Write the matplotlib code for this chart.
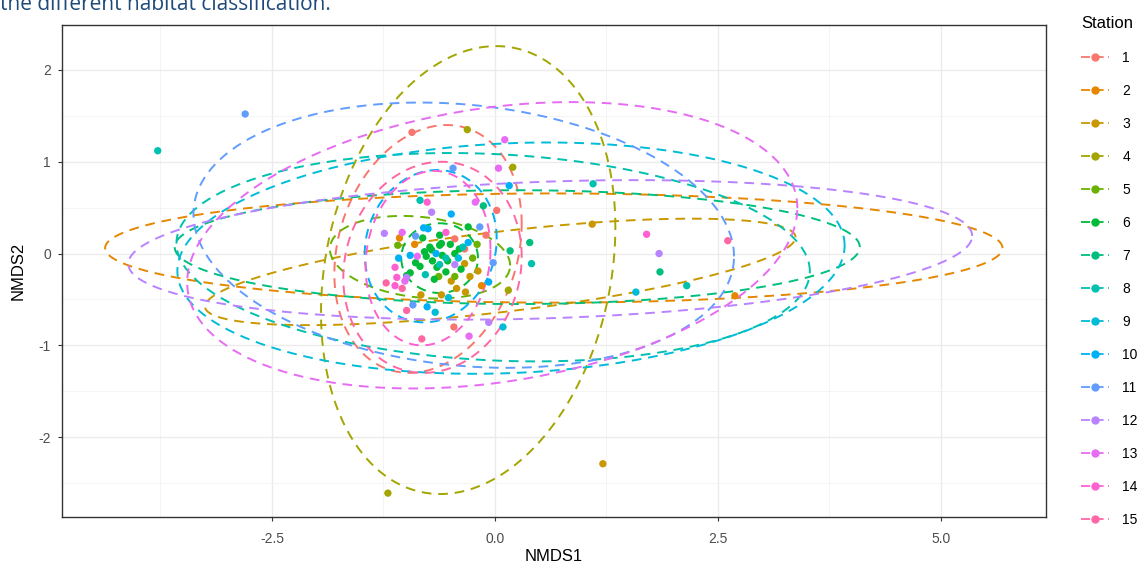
import numpy as np
import matplotlib.pyplot as plt
from matplotlib.lines import Line2D

plt.rcParams['font.family'] = ['Liberation Sans', 'DejaVu Sans']
plt.rcParams['axes.unicode_minus'] = False

# stations and ggplot hue colours
stations = [str(i) for i in range(1, 16)]
colors = ['#F8766D', '#E58700', '#C99800', '#A3A500', '#6BB100', '#00BA38', '#00BF7D',
          '#00C0AF', '#00BCD8', '#00B0F6', '#619CFF', '#B983FF', '#E76BF3', '#FD61D1', '#FF67A4']

# ellipse per station: centre, half extent in x / y, correlation
ell_cx = [-0.75, 0.66, 0.06, -0.30, -0.84, -0.62, 0.25, -0.02, 0.18, -0.72, -0.35, 0.62, -0.03, -0.75, -0.70]
ell_cy = [0.05, 0.06, -0.20, -0.18, -0.04, -0.05, 0.07, -0.04, -0.05, 0.08, 0.20, 0.04, 0.09, -0.05, -0.15]
ell_xh = [1.05, 5.03, 3.31, 1.65, 1.01, 0.43, 3.84, 3.55, 3.74, 0.74, 3.03, 4.73, 3.42, 0.70, 1.00]
ell_yh = [1.35, 0.595, 0.58, 2.44, 0.45, 0.38, 0.62, 1.135, 1.26, 0.83, 1.445, 0.76, 1.56, 0.95, 1.15]
ell_r = [0.2, 0.0, 0.65, 0.19, -0.2, 0.0, 0.0, -0.135, 0.11, 0.1, -0.16, 0.2, 0.26, 0.1, 0.1]

# NMDS scores (station -> list of (NMDS1, NMDS2))
points = {
    '1': [(-0.93, 1.32), (0.02, 0.47), (-0.10, 0.20), (-0.45, 0.16), (-0.34, 0.05), (-0.46, -0.80)],
    '2': [(2.69, -0.46), (-1.07, 0.17), (-0.90, 0.10), (-0.15, -0.35)],
    '3': [(1.21, -2.29), (1.09, 0.32), (-0.34, -0.11), (-0.49, -0.30), (-0.19, -0.19),
          (-0.43, -0.38), (-0.33, -0.42), (-0.83, -0.45), (-0.60, -0.45), (-0.28, -0.25)],
    '4': [(-1.20, -2.61), (-0.31, 1.35), (0.20, 0.94), (0.15, -0.40)],
    '5': [(-1.09, 0.09), (-0.63, -0.25), (-0.25, -0.05), (-0.45, -0.25), (-0.20, 0.10)],
    '6': [(-0.30, 0.29), (-0.81, 0.17), (-0.60, 0.11), (-0.73, 0.07), (-0.77, -0.03), (-0.59, -0.02),
          (-0.53, -0.08), (-0.38, -0.17), (-0.65, -0.15), (-0.84, -0.14), (-0.99, -0.24), (-0.68, -0.28),
          (-0.45, 0.00), (-0.50, 0.10), (-0.70, -0.08), (-0.40, 0.05), (-0.62, 0.20), (-0.55, -0.20),
          (-0.62, 0.09), (-0.71, 0.04), (-0.79, 0.02), (-0.95, -0.21), (-0.89, -0.10)],
    '7': [(-0.13, 0.52), (0.17, 0.03), (0.39, 0.12), (1.85, -0.20)],
    '8': [(-3.78, 1.12), (1.10, 0.76), (2.15, -0.35), (0.41, -0.11), (-0.84, 0.58), (-0.36, 0.07),
          (-0.78, -0.23), (-0.55, -0.05), (-0.62, -0.12)],
    '9': [(1.58, -0.42), (0.09, -0.80), (-0.41, -0.05), (-0.52, -0.48), (-0.67, -0.64)],
    '10': [(0.16, 0.74), (-0.49, 0.43), (-0.80, 0.28), (-0.95, -0.02), (-1.08, -0.05), (-0.66, 0.00),
           (-0.07, -0.31), (-0.76, -0.58), (-0.30, 0.12), (-0.75, 0.27)],
    '11': [(-2.80, 1.52), (-0.47, 0.93), (-0.17, 0.29), (-0.89, 0.19), (-0.02, -0.10), (-0.92, -0.56)],
    '12': [(1.84, 0.00), (-0.71, 0.45), (-1.24, 0.22), (-0.45, -0.12), (-0.99, -0.26), (-0.07, -0.75)],
    '13': [(0.11, 1.24), (0.04, 0.93), (-0.22, 0.56), (-1.04, 0.23), (-0.87, -0.03), (-0.29, -0.90),
           (-1.01, -0.30)],
    '14': [(1.70, 0.21), (-0.76, 0.56), (-0.55, 0.23), (-1.12, -0.15), (-1.12, -0.35), (-1.10, -0.26)],
    '15': [(2.61, 0.14), (-1.04, -0.38), (-1.22, -0.32), (-0.99, -0.62), (-0.82, -0.93)],
}

fig = plt.figure(figsize=(11.45, 5.69), dpi=100)
ax = fig.add_axes([0.0541, 0.0914, 0.8594, 0.8647])

t = np.linspace(0, 2 * np.pi, 300)
for i, st in enumerate(stations):
    c = colors[i]
    r = ell_r[i]
    ex = ell_cx[i] + ell_xh[i] * np.cos(t)
    ey = ell_cy[i] + ell_yh[i] * (r * np.cos(t) + np.sqrt(1 - r ** 2) * np.sin(t))
    ax.plot(ex, ey, color=c, lw=1.4, ls='--', dashes=(5, 3.5), zorder=2)

for i, st in enumerate(stations):
    p = np.array(points[st])
    ax.scatter(p[:, 0], p[:, 1], s=28, color=colors[i], edgecolors='none', zorder=3)

ax.set_xlim(-4.854, 6.177)
ax.set_ylim(-2.87, 2.49)
ax.set_xticks([-2.5, 0.0, 2.5, 5.0])
ax.set_xticklabels(['-2.5', '0.0', '2.5', '5.0'])
ax.set_yticks([-2, -1, 0, 1, 2])
ax.set_xticks([-3.75, -1.25, 1.25, 3.75], minor=True)
ax.set_yticks([-2.5, -1.5, -0.5, 0.5, 1.5], minor=True)
ax.grid(True, which='major', color='#EBEBEB', lw=1.0, zorder=0)
ax.grid(True, which='minor', color='#F2F2F2', lw=0.6, zorder=0)
ax.set_axisbelow(True)
ax.tick_params(which='major', length=3, color='#333333', labelsize=10, labelcolor='#4D4D4D')
ax.tick_params(axis='x', which='major', pad=8)
ax.tick_params(axis='y', which='major', pad=5)
ax.tick_params(which='minor', length=0)
for s in ax.spines.values():
    s.set_color('#333333')
    s.set_linewidth(1.0)
ax.set_xlabel('NMDS1', fontsize=12, labelpad=2)
ax.set_ylabel('NMDS2', fontsize=12, labelpad=9)

# legend on the right
handles = [Line2D([0], [0], color=c, lw=1.3, ls='--', dashes=(5, 2.5), marker='o', markersize=5)
           for c in colors]
leg = fig.legend(handles, stations, title='Station', loc='upper left',
                 bbox_to_anchor=(0.933, 0.993), frameon=False, fontsize=10,
                 title_fontsize=12, labelspacing=1.37, handlelength=2.0, handletextpad=1.0)
leg._legend_box.align = 'left'

# caption fragment cut off at the top of the screenshot
fig.text(0.0, 1.0 - 4 / 569, 'the different habitat classification.', fontsize=15,
         family=['Open Sans', 'DejaVu Sans'], color='#1e4a7a', va='center', ha='left')

plt.savefig('out.png', dpi=100)
